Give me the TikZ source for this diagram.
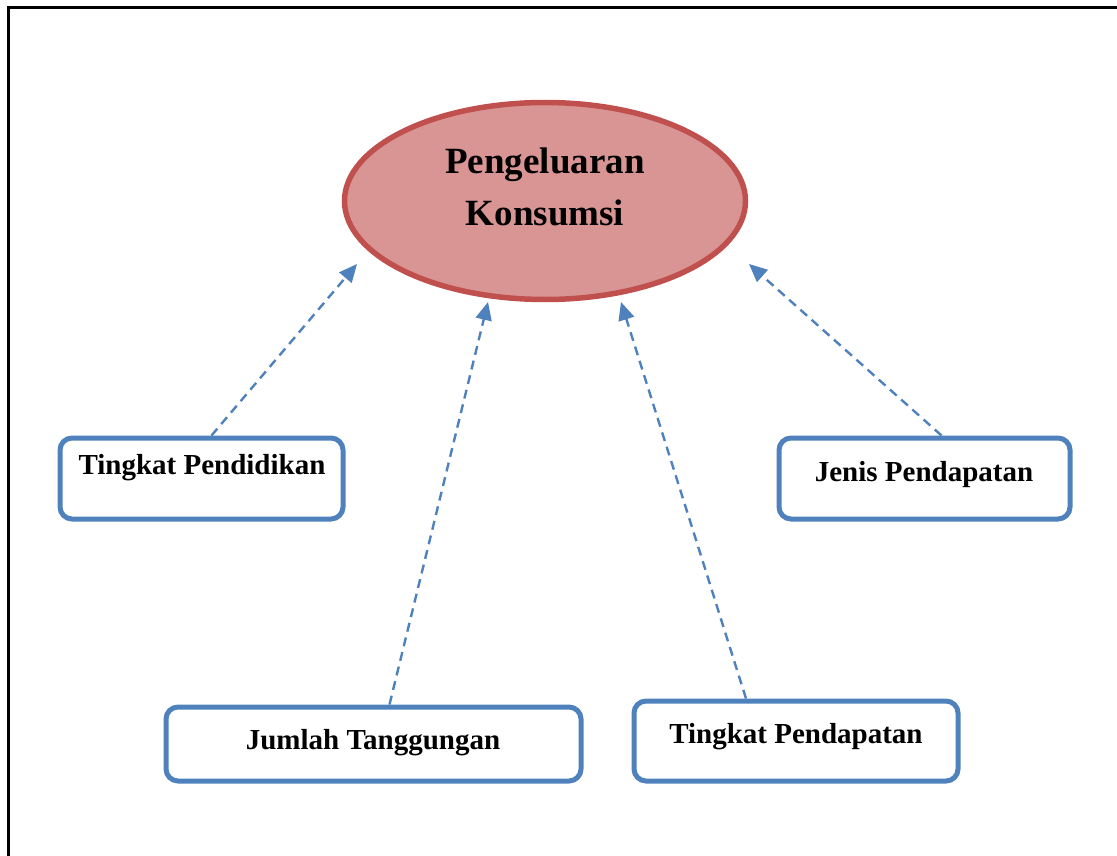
\documentclass[tikz,border=0pt]{standalone}
\usepackage{fontspec}
\setmainfont{Liberation Serif}
\usetikzlibrary{shapes.geometric,arrows.meta}

\definecolor{biru}{HTML}{4F81BD}
\definecolor{merah}{HTML}{C0504D}
\definecolor{merahmuda}{HTML}{D99594}

\begin{document}
\begin{tikzpicture}[x=1pt,y=-1pt,
    kotak/.style={draw=biru, line width=5pt, rounded corners=12pt, inner sep=0pt},
    teks/.style={font=\fontsize{29}{35}\selectfont\bfseries, inner sep=0pt},
    panah/.style={draw=biru, line width=2.4pt, dash pattern=on 9pt off 6pt,
      -{Triangle[length=18pt,width=16pt]}}]
  \useasboundingbox (0,0) rectangle (1117,856);

  % Bingkai
  \draw[line width=3pt] (8,8) rectangle (1130,870);

  % Elips utama
  \node[ellipse, draw=merah, fill=merahmuda, line width=5.5pt, inner sep=0pt,
    minimum width=401pt, minimum height=197pt] (pk) at (545,201) {};
  \node[font=\fontsize{37}{52}\selectfont\bfseries, align=center, inner sep=0pt]
    (pkteks) at (545,187) {Pengeluaran\\Konsumsi};

  % Kotak faktor
  \node[kotak, minimum width=283pt, minimum height=81pt] (tpd) at (201.5,478.5) {};
  \node[teks] (tpdteks) at (202,468) {Tingkat Pendidikan};

  \node[kotak, minimum width=291pt, minimum height=81pt] (jp) at (924.5,478.5) {};
  \node[teks] (jpteks) at (924,475) {Jenis Pendapatan};

  \node[kotak, minimum width=415pt, minimum height=74pt] (jt) at (373.5,744) {};
  \node[teks] (jtteks) at (373,743) {Jumlah Tanggungan};

  \node[kotak, minimum width=324pt, minimum height=80pt] (tpn) at (796,741) {};
  \node[teks] (tpnteks) at (796,737) {Tingkat Pendapatan};

  % Ujung panah dekat elips
  \coordinate (u1) at (357,264);
  \coordinate (u2) at (488,302);
  \coordinate (u3) at (621,302);
  \coordinate (u4) at (749,264);

  % Panah putus-putus
  \draw[panah] ([xshift=10pt]tpd.north) -- (u1);
  \draw[panah] ([xshift=16pt]jt.north) -- (u2);
  \draw[panah] ([xshift=-50pt]tpn.north) -- (u3);
  \draw[panah] ([xshift=17pt]jp.north) -- (u4);
\end{tikzpicture}
\end{document}
